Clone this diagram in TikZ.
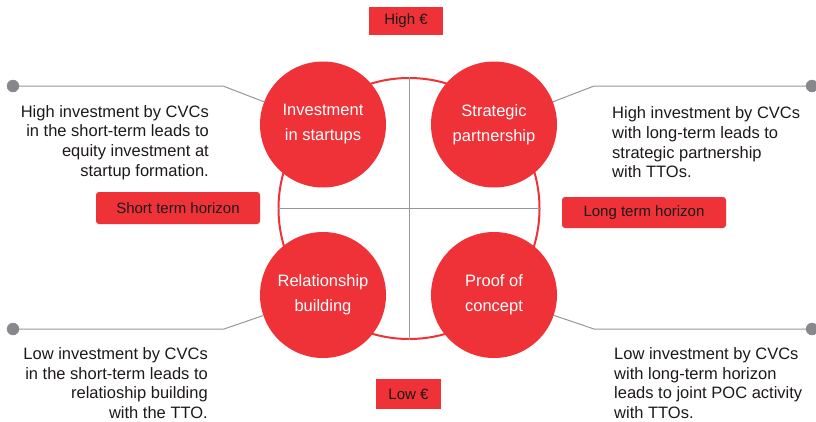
\documentclass[tikz,border=0pt]{standalone}
\usepackage{fontspec}
\setmainfont{Liberation Sans}
\definecolor{ired}{RGB}{238,50,56}
\definecolor{lgray}{RGB}{150,150,156}
\definecolor{dgray}{RGB}{135,135,140}
\definecolor{ink}{RGB}{30,25,25}
\begin{document}
\begin{tikzpicture}[x=1pt,y=-1pt,
    quad/.style = {circle,fill=ired,text=white,minimum size=126pt,inner sep=0pt,align=center,
                   font=\fontsize{16.5}{25}\selectfont},
    tag/.style = {fill=ired,text=ink,inner sep=0pt,font=\fontsize{15}{18}\selectfont},
    note/.style = {inner sep=0pt,text=ink,font=\fontsize{16.5}{19.7}\selectfont},
    link/.style = {draw=lgray,line width=1pt}]
    \useasboundingbox (0,0) rectangle (816,421);

    \node[circle,draw=ired,line width=2pt,minimum size=261pt,inner sep=0pt] (ring) at (409,208.5) {};
    \draw[link] (ring.north) -- (ring.south);
    \draw[link] (ring.west) -- (ring.east);

    \node[quad] (inv) at (323,124.5) {Investment\\in startups};
    \node[quad] (strat) at (494,124.5) {Strategic\\partnership};
    \node[quad] (rel) at (323,295) {Relationship\\building};
    \node[quad] (poc) at (494,295) {Proof of\\concept};

    \node[tag,minimum width=74pt,minimum height=28pt] (high) at (406,21) {High €};
    \node[tag,minimum width=65pt,minimum height=30pt] (low) at (408.5,394) {Low €};
    \node[tag,rounded corners=3pt,minimum width=164pt,minimum height=32pt] (short) at (178,208) {Short term horizon};
    \node[tag,rounded corners=3pt,minimum width=164pt,minimum height=31pt] (long) at (644,212.5) {Long term horizon};

    \node[note,anchor=east,align=right] (ntl) at (209,142.5)
        {High investment by CVCs\\in the short-term leads to\\equity investment at\\startup formation.};
    \node[note,anchor=west,align=left] (ntr) at (612,142.5)
        {High investment by CVCs\\with long-term leads to\\strategic partnership\\with TTOs.};
    \node[note,anchor=east,align=right] (nbl) at (208,383)
        {Low investment by CVCs\\in the short-term leads to\\relatioship building\\with the TTO.};
    \node[note,anchor=west,align=left] (nbr) at (614,383)
        {Low investment by CVCs\\with long-term horizon\\leads to joint POC activity\\with TTOs.};

    \coordinate (dtl) at (13,86);
    \coordinate (ktl) at (223,86);
    \coordinate (dtr) at (812,86);
    \coordinate (ktr) at (594,86);
    \coordinate (dbl) at (13,329);
    \coordinate (kbl) at (224,329);
    \coordinate (dbr) at (812,329);
    \coordinate (kbr) at (594,329);

    \draw[link] (dtl) -- (ktl) -- (inv);
    \draw[link] (dtr) -- (ktr) -- (strat);
    \draw[link] (dbl) -- (kbl) -- (rel);
    \draw[link] (dbr) -- (kbr) -- (poc);

    \filldraw[dgray] (dtl) circle (6pt);
    \filldraw[dgray] (dtr) circle (6pt);
    \filldraw[dgray] (dbl) circle (6pt);
    \filldraw[dgray] (dbr) circle (6pt);
\end{tikzpicture}
\end{document}
